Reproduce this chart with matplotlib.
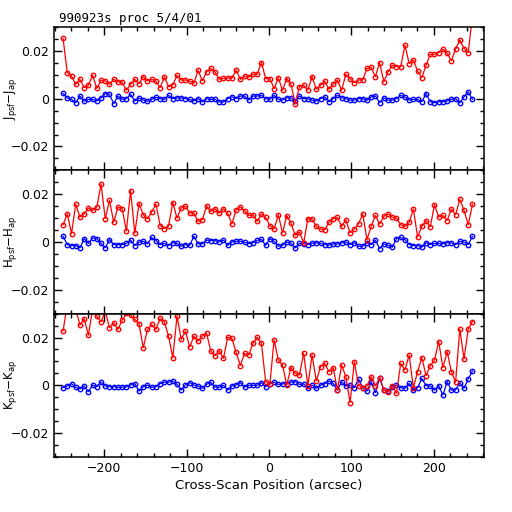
import numpy as np
import matplotlib
matplotlib.use("Agg")
import matplotlib.pyplot as plt
from matplotlib.ticker import MultipleLocator, FuncFormatter

# Cross-scan positions (arcsec)
x_pos = np.linspace(-250, 247, 98)

j_red = [0.0252, 0.0109, 0.0095, 0.006, 0.0081, 0.0046, 0.0056, 0.0098, 0.0043, 0.0077,
         0.0074, 0.006, 0.0081, 0.007, 0.007, 0.0035, 0.006, 0.0081, 0.0063, 0.0092,
         0.0074, 0.0081, 0.0074, 0.0046, 0.0091, 0.005, 0.0057, 0.0098, 0.0078, 0.0078,
         0.0074, 0.0064, 0.0119, 0.0074, 0.0112, 0.0127, 0.0112, 0.0081, 0.0085, 0.0087,
         0.0085, 0.012, 0.0081, 0.0095, 0.009, 0.0102, 0.0102,
         0.0151, 0.0084, 0.0084, 0.0042, 0.0088, 0.0035, 0.0084, 0.006, -0.0021, 0.005,
         0.0056, 0.0036, 0.0092, 0.0039, 0.0056, 0.0074, 0.0039, 0.006, 0.0078, 0.0035,
         0.0102, 0.0084, 0.0067, 0.0078, 0.0078, 0.0127, 0.0131, 0.0092, 0.0151, 0.007,
         0.0112, 0.014, 0.0134, 0.0133, 0.0224, 0.0147, 0.0162, 0.0115, 0.0088, 0.014,
         0.0185, 0.0185, 0.0193, 0.0207, 0.019, 0.0159, 0.0207, 0.0246, 0.021, 0.0193,
         0.035]
j_blue = [0.0022, 0.0003, -0.0003, -0.0017, 0.0011, -0.0011, -0.0003, -0.0003, -0.001, 0.0003,
          0.0021, 0.0018, -0.0021, 0.0011, -0.0003, 0.0, 0.0018, -0.001, 0.0003, -0.0006,
          -0.0011, -0.0003, 0.0006, 0.0, -0.0003, 0.0014, 0.0, 0.0003, 0.0003, 0.0,
          -0.0003, -0.001, 0.0, -0.0014, 0.0, -0.0003, -0.0003, -0.0014, -0.0014, 0.0,
          0.0008, 0.0, 0.0011, 0.0011, -0.0006, 0.0011, 0.0011,
          0.0014, 0.0, -0.0003, 0.0014, -0.0003, -0.0006, 0.0004, 0.0003, -0.001, 0.0011,
          0.0, 0.0, -0.0006, -0.001, 0.0, 0.0007, -0.0013, 0.0, 0.0014, 0.0004,
          0.0, -0.0006, -0.0006, 0.0, 0.0, -0.0007, 0.0007, 0.0011, -0.0017, 0.0003,
          -0.0006, -0.0006, 0.0, 0.0014, 0.0007, -0.0006, -0.0003, -0.0003, -0.0013, 0.0021,
          -0.0013, -0.0017, -0.0013, -0.0013, -0.001, -0.0003, 0.0, -0.0018, 0.0008, 0.0028,
          -0.0003]

h_red = [0.0072, 0.0118, 0.0035, 0.0158, 0.0104, 0.0117, 0.0142, 0.0132, 0.0146, 0.0242,
         0.0097, 0.0174, 0.0083, 0.0146, 0.014, 0.0046, 0.0214, 0.0037, 0.0161, 0.0114,
         0.0097, 0.0125, 0.0158, 0.0069, 0.0056, 0.0067, 0.0165, 0.01, 0.0142, 0.015,
         0.0121, 0.0121, 0.0086, 0.0093, 0.0151, 0.0128, 0.0139, 0.0121, 0.0139, 0.0121,
         0.0075, 0.0135, 0.0146, 0.0131, 0.0111, 0.0114, 0.0086,
         0.0117, 0.0103, 0.0069, 0.0054, 0.0114, 0.0038, 0.011, 0.0079, 0.0028, 0.0042,
         -0.0004, 0.0097, 0.0097, 0.0065, 0.0054, 0.0051, 0.0082, 0.0097, 0.0103, 0.0065,
         0.0093, 0.0038, 0.0054, 0.0076, 0.0117, 0.001, 0.0065, 0.0111, 0.0075, 0.0107,
         0.0117, 0.0104, 0.01, 0.0072, 0.0065, 0.0082, 0.0138, 0.0021, 0.0065, 0.0089,
         0.0063, 0.0156, 0.0104, 0.0111, 0.009, 0.0138, 0.0114, 0.0179, 0.0132, 0.0072,
         0.0158]
h_blue = [0.0024, -0.0011, -0.0015, -0.0015, -0.0025, 0.0014, -0.0006, 0.0017, 0.0014, -0.0006,
          -0.0025, 0.001, -0.0011, -0.0011, -0.0011, -0.0006, 0.0008, -0.0015, -0.0001, 0.0003,
          -0.0008, 0.0019, 0.0006, -0.0011, -0.0006, -0.0015, -0.0003, -0.0006, -0.0018, -0.0011,
          -0.0014, 0.0024, -0.0008, -0.0008, 0.0008, 0.0006, 0.0006, 0.0, 0.0008, -0.0014,
          0.0, 0.0003, 0.0003, -0.0001, -0.0007, -0.0004, 0.0007,
          0.0011, -0.0014, 0.0014, 0.0003, -0.0018, -0.0014, 0.0, -0.0006, -0.0025, -0.0006,
          -0.0007, -0.0011, -0.0006, -0.0003, -0.0006, -0.0011, -0.0013, -0.0008, -0.0008, -0.0004,
          0.0, -0.0011, -0.0003, -0.0018, -0.0018, -0.0003, -0.0011, 0.0008, -0.0028, -0.0008,
          -0.0014, -0.0022, 0.0014, 0.0019, 0.001, -0.0011, -0.0015, -0.0015, -0.0022, -0.0003,
          -0.0011, -0.0006, -0.0006, -0.0008, -0.0003, -0.0004, -0.0011, 0.0003, 0.0, -0.0011,
          0.0024]

k_red = [0.0227, 0.034, 0.033, 0.032, 0.0252, 0.0279, 0.021, 0.032, 0.029, 0.0266,
         0.031, 0.0241, 0.0262, 0.0234, 0.0272, 0.0301, 0.0294, 0.0276, 0.0258, 0.0157,
         0.0234, 0.0255, 0.0234, 0.028, 0.0266, 0.0206, 0.0115, 0.029, 0.0192, 0.0227,
         0.016, 0.0206, 0.0185, 0.0206, 0.0218, 0.0144, 0.0124, 0.0144, 0.0113, 0.0201,
         0.0197, 0.0138, 0.0083, 0.0134, 0.0127, 0.0176, 0.0201,
         0.0176, 0.0015, 0.0004, 0.019, 0.0106, 0.0085, 0.0001, 0.0074, 0.005, 0.0043,
         0.0134, -0.0001, 0.0127, 0.0018, 0.0078, 0.0092, 0.0057, 0.0074, -0.002, 0.0085,
         0.0036, -0.0073, 0.0099, -0.0001, -0.001, -0.0003, 0.0036, -0.0003, 0.0032, -0.002,
         -0.0029, -0.0003, -0.0034, 0.0092, 0.0064, 0.0127, -0.001, 0.0057, 0.0116, 0.0041,
         0.0081, 0.0106, 0.0183, 0.0074, 0.0141, 0.0057, 0.0013, 0.0236, 0.011, 0.0236,
         0.0267]
k_blue = [-0.001, -0.0003, 0.0007, -0.0008, -0.0015, -0.0003, -0.0027, 0.0001, -0.0006, 0.0013,
          -0.0003, -0.0006, -0.0006, -0.0008, -0.0008, -0.0006, 0.0001, 0.0007, -0.0024, -0.0006,
          0.0001, -0.0008, -0.0006, 0.0007, 0.0013, 0.0013, 0.0018, 0.0004, -0.002, 0.0001,
          0.0011, 0.0001, -0.0003, -0.0013, 0.0004, 0.0013, -0.0008, -0.0008, 0.0, -0.002,
          -0.0003, 0.0001, 0.0011, -0.0008, 0.0, 0.0, 0.0,
          0.0011, -0.0006, 0.0006, 0.0013, 0.0004, 0.0006, 0.0006, 0.0013, 0.0015, 0.0004,
          0.0006, -0.001, 0.0001, -0.0013, 0.0001, 0.0006, 0.0018, 0.0008, -0.002, 0.0015,
          -0.0003, 0.0001, -0.001, 0.0027, -0.001, -0.0024, 0.0015, -0.0031, 0.0032, -0.002,
          -0.0024, -0.0006, 0.0001, -0.001, -0.0013, 0.0008, -0.002, -0.001, 0.0029, -0.0001,
          -0.0003, -0.002, -0.0001, -0.0041, 0.0015, -0.002, -0.002, 0.0011, -0.0013, 0.0027,
          0.006]

panel_labels = [r"J$_{\rm psf}$$-$J$_{\rm ap}$", r"H$_{\rm psf}$$-$H$_{\rm ap}$", r"K$_{\rm psf}$$-$K$_{\rm ap}$"]
red_series = [j_red, h_red, k_red]
blue_series = [j_blue, h_blue, k_blue]
title_text = "990923s proc 5/4/01"
xlabel_text = "Cross-Scan Position (arcsec)"

W = H = 512
fig = plt.figure(figsize=(5.12, 5.12), dpi=100)
fig.patch.set_facecolor("white")

left, right, top, bottom = 54, 484, 27, 457
ph = (bottom - top) / 3.0


def fmt(v, pos):
    if abs(v) < 1e-9:
        return "0"
    s = "%g" % v
    return s.replace("-", "\u2212")


axes = []
for k in range(3):
    y0 = top + k * ph
    ax = fig.add_axes([left / W, 1 - (y0 + ph) / H, (right - left) / W, ph / H])
    axes.append(ax)
    xr = x_pos[:len(red_series[k])]
    xb = x_pos[:len(blue_series[k])]
    ax.plot(xb, blue_series[k], color="#0000ff", lw=0.9, marker="o", ms=3.2,
            mfc="none", mec="#0000ff", mew=1.0)
    ax.plot(xr, red_series[k], color="#ff0000", lw=0.9, marker="o", ms=3.2,
            mfc="none", mec="#ff0000", mew=1.0)
    ax.set_xlim(-261, 261)
    ax.set_ylim(-0.03, 0.03)
    ax.xaxis.set_major_locator(MultipleLocator(100))
    ax.xaxis.set_minor_locator(MultipleLocator(20))
    ax.yaxis.set_major_locator(MultipleLocator(0.02))
    ax.yaxis.set_minor_locator(MultipleLocator(0.005))
    ax.yaxis.set_major_formatter(FuncFormatter(fmt))
    ax.xaxis.set_major_formatter(FuncFormatter(fmt))
    ax.tick_params(which="both", direction="in", top=True, right=True,
                   width=1.0, labelsize=9)
    ax.tick_params(which="major", length=6)
    ax.tick_params(which="minor", length=3)
    for sp in ax.spines.values():
        sp.set_linewidth(1.1)
    if k < 2:
        ax.tick_params(labelbottom=False)
    ax.set_ylabel(panel_labels[k], fontsize=8.5)
    ax.yaxis.set_label_coords(-0.082, 0.5)

axes[2].set_xlabel(xlabel_text, fontsize=9.5, labelpad=3)
fig.text(59 / W, 1 - 25 / H, title_text, fontsize=9, ha="left", va="bottom",
         family="DejaVu Sans Mono")

fig.savefig("out.png", dpi=100)
